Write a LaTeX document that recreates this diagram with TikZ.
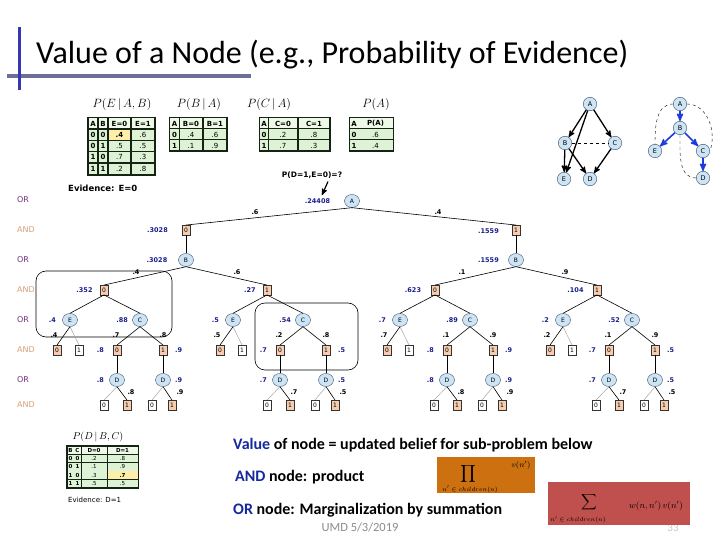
\documentclass[tikz,border=0pt]{standalone}
\usepackage{fontspec}
\setmainfont{Carlito}
\newfontfamily\tahoma{DejaVu Sans}
\usepackage{amsmath}
\usetikzlibrary{positioning,arrows,shapes.geometric,calc}
\definecolor{orfill}{RGB}{205,228,245}
\definecolor{orline}{RGB}{60,80,110}
\definecolor{andfill}{RGB}{248,205,175}
\definecolor{valblue}{RGB}{25,30,140}
\definecolor{orlvl}{RGB}{110,50,120}
\definecolor{andlvl}{RGB}{215,160,120}
\definecolor{tabline}{RGB}{20,35,20}
\definecolor{tabcell}{RGB}{222,243,214}
\definecolor{tabhead}{RGB}{238,249,232}
\definecolor{tabhi}{RGB}{255,238,170}
\definecolor{titlebar}{RGB}{55,55,175}
\definecolor{titleline}{RGB}{110,110,155}
\definecolor{keyblue}{RGB}{20,40,160}
\definecolor{prodbox}{RGB}{204,112,16}
\definecolor{sumbox}{RGB}{192,80,77}
\definecolor{footgray}{RGB}{140,140,140}
\definecolor{pseudoblue}{RGB}{30,60,220}
\tikzset{
  ornode/.style={draw=orline,fill=orfill,ellipse,minimum width=15pt,minimum height=13pt,inner sep=0pt,font=\tahoma\fontsize{6}{6}\selectfont},
  andnode/.style={draw=black!80,fill=andfill,rectangle,minimum width=8pt,minimum height=9.5pt,inner sep=0pt,font=\tahoma\fontsize{6}{6}\selectfont},
  andleaf/.style={andnode,fill=white},
  val/.style={text=valblue,inner sep=0pt,font=\tahoma\bfseries\fontsize{6.5}{6.5}\selectfont},
  wgt/.style={inner sep=0pt,font=\tahoma\bfseries\fontsize{6.5}{6.5}\selectfont},
  lvlor/.style={text=orlvl,anchor=west,inner sep=0pt,font=\tahoma\fontsize{8}{8}\selectfont},
  lvland/.style={lvlor,text=andlvl},
  tedge/.style={line width=0.6pt},
  gedge/.style={line width=0.5pt,gray!70},
  tframe/.style={fill=tabline,draw=tabline,line width=1.5pt},
  thead/.style={fill=tabhead,minimum height=10pt,inner sep=0pt,font=\tahoma\bfseries\fontsize{7}{7}\selectfont},
  tidx/.style={thead,fill=tabcell},
  tval/.style={thead,fill=tabcell,font=\tahoma\fontsize{7}{7}\selectfont},
  gnode/.style={draw=orline,fill=orfill,circle,minimum size=13.5pt,inner sep=0pt,font=\tahoma\fontsize{6.5}{6.5}\selectfont},
  garrow/.style={->,>=stealth',line width=1.3pt},
  parrow/.style={->,>=stealth',line width=1.6pt,pseudoblue},
  note/.style={anchor=west,inner sep=0pt,font=\bfseries\fontsize{16}{16}\selectfont}
}
\begin{document}
\begin{tikzpicture}[x=1pt,y=-1pt]
\fill[white] (0,0) rectangle (720,540);
\useasboundingbox (0,0) rectangle (720,540);

%title
\node[anchor=base west,inner sep=0pt,font=\fontsize{32}{32}\selectfont] (title) at (36,64) {Value of a Node (e.g., Probability of Evidence)};
\fill[titleline] (7,74) rectangle (251,78);
\fill[titlebar] (17.5,27) rectangle (20.5,90);

%table P(E|A,B)
\node (lE) at (122,105) {\fontsize{12}{12}\selectfont$P(E\,|\,A,B)$};
\draw[tframe] (88,118) rectangle (155,175);
\foreach \t/\x/\w [count=\c] in {A/93/8.8, B/103/8.8, E=0/119.5/21.8, E=1/143/22.8}
  \node[thead,minimum width=\w pt] (tE\c) at (\x,123.5) {\t};
\foreach \a/\b/\u/\v [count=\r] in {0/0/.4/.6, 0/1/.5/.5, 1/0/.7/.3, 1/1/.2/.8}{
  \node[tidx,minimum width=8.8pt] (tEa\r) at (93,123.5+11.3*\r) {\a};
  \node[tidx,minimum width=8.8pt] (tEb\r) at (103,123.5+11.3*\r) {\b};
  \node[tval,minimum width=21.8pt] (tEu\r) at (119.5,123.5+11.3*\r) {\u};
  \node[tval,minimum width=22.8pt] (tEv\r) at (143,123.5+11.3*\r) {\v};
}
\node[tval,fill=tabhi,minimum width=21.8pt,font=\tahoma\bfseries\fontsize{7}{7}\selectfont] (tEhi) at (119.5,134.8) {.4};
\node[anchor=west,inner sep=0pt,font=\tahoma\bfseries\fontsize{8.5}{8.5}\selectfont] (evE) at (68,188) {Evidence: E=0};

%table P(B|A)
\node (lB) at (199,105) {\fontsize{12}{12}\selectfont$P(B\,|\,A)$};
\draw[tframe] (170,118) rectangle (227,151);
\foreach \t/\x/\w [count=\c] in {A/174.5/8.8, B=0/191/22.8, B=1/215/22.8}
  \node[thead,minimum width=\w pt] (tB\c) at (\x,123.5) {\t};
\foreach \a/\u/\v [count=\r] in {0/.4/.6, 1/.1/.9}{
  \node[tidx,minimum width=8.8pt] (tBa\r) at (174.5,123.5+11*\r) {\a};
  \node[tval,minimum width=22.8pt] (tBu\r) at (191,123.5+11*\r) {\u};
  \node[tval,minimum width=22.8pt] (tBv\r) at (215,123.5+11*\r) {\v};
}

%table P(C|A)
\node (lC) at (269,105) {\fontsize{12}{12}\selectfont$P(C\,|\,A)$};
\draw[tframe] (260,118) rectangle (330,151);
\foreach \t/\x/\w [count=\c] in {A/264/7.8, C=0/283/28.8, C=1/314/30.8}
  \node[thead,minimum width=\w pt] (tC\c) at (\x,123.5) {\t};
\foreach \a/\u/\v [count=\r] in {0/.2/.8, 1/.7/.3}{
  \node[tidx,minimum width=7.8pt] (tCa\r) at (264,123.5+11*\r) {\a};
  \node[tval,minimum width=28.8pt] (tCu\r) at (283,123.5+11*\r) {\u};
  \node[tval,minimum width=30.8pt] (tCv\r) at (314,123.5+11*\r) {\v};
}

%table P(A)
\node (lA) at (376,105) {\fontsize{12}{12}\selectfont$P(A)$};
\draw[tframe] (350,118) rectangle (393,151);
\foreach \t/\x/\w [count=\c] in {A/354/7.8, P(A)/375.5/34.8}
  \node[thead,minimum width=\w pt] (tA\c) at (\x,123.5) {\t};
\foreach \a/\u [count=\r] in {0/.6, 1/.4}{
  \node[tidx,minimum width=7.8pt] (tAa\r) at (354,123.5+11*\r) {\a};
  \node[tval,minimum width=34.8pt] (tAu\r) at (375.5,123.5+11*\r) {\u};
}

%belief network
\node[gnode] (ga) at (590,104) {A};
\node[gnode] (gb) at (565,143) {B};
\node[gnode] (gc) at (615,143) {C};
\node[gnode] (ge) at (564,179) {E};
\node[gnode] (gd) at (590,179) {D};
\foreach \s/\t in {ga/gb, ga/gc, ga/ge, gb/ge, gb/gd, gc/gd}
  \draw[garrow] (\s) -- (\t);
\draw[dashed,line width=0.6pt] (gb) -- (gc);

%pseudo tree
\node[gnode] (qa) at (680,104) {A};
\node[gnode] (qb) at (680,128) {B};
\node[gnode] (qe) at (655,151) {E};
\node[gnode] (qc) at (703,151) {C};
\node[gnode] (qd) at (703,178) {D};
\foreach \s/\t in {qa/qb, qb/qe, qb/qc, qc/qd}
  \draw[parrow] (\s) -- (\t);
\draw[dashed,thin] (qa.west) to[out=180,in=90] (qe.north);
\draw[dashed,thin] (qa.east) to[out=0,in=70] (qc.east);
\draw[dashed,thin] (qb.south) to[out=-90,in=180] (qd.west);

%query
\node[inner sep=0pt,font=\tahoma\bfseries\fontsize{7.5}{7.5}\selectfont] (q) at (312,175) {P(D=1,E=0)=?};
\coordinate (qtip) at (322,195);
\draw[->,>=stealth',line width=1.2pt] ([xshift=16pt,yshift=-3pt]q.south) -- (qtip);

%level labels
\foreach \y in {200,260,320,380}
  \node[lvlor] (lo\y) at (17,\y) {OR};
\foreach \y in {230,290,350,405}
  \node[lvland] (la\y) at (17,\y) {AND};

%search boxes
\draw[rounded corners=10pt,line width=0.6pt] (36,271) rectangle (172,337);
\draw[rounded corners=10pt,line width=0.6pt] (255,303) rectangle (358,370);

%top of the AND/OR tree
\node[ornode] (r) at (352,201) {A};
\node[andnode] (a0) at (186,230) {0};
\node[andnode] (a1) at (516,230) {1};
\node[ornode] (b0) at (186,260) {B};
\node[ornode] (b1) at (516,260) {B};
\node[andnode] (c0) at (104,290) {0};
\node[andnode] (c1) at (267,290) {1};
\node[andnode] (c2) at (435,290) {0};
\node[andnode] (c3) at (597,290) {1};
\foreach \s/\t in {r/a0, r/a1, a0/b0, a1/b1, b0/c0, b0/c1, b1/c2, b1/c3}
  \draw[tedge] (\s.south) -- (\t.north);
\foreach \x/\y/\t [count=\k] in {317.5/201/.24408, 157.5/230/.3028, 488.5/231/.1559, 157/260/.3028, 488.5/260/.1559, 84.5/290/.352, 250/290/.27, 413/290/.623, 575.5/290/.104}
  \node[val] (vt\k) at (\x,\y) {\t};
\foreach \x/\y/\t [count=\k] in {255/212/.6, 438/212/.4, 136/272/.4, 237/272/.6, 462/272/.1, 565/272/.9}
  \node[wgt] (wt\k) at (\x,\y) {\t};

%sub-problems below the AND nodes
\foreach \i/\ex/\cx/\ve/\vc/\vx/\vy/\wx/\wy in {0/70/140/.4/.88/.8/.9/.7/.8, 1/233/303/.5/.54/.7/.5/.2/.8, 2/400/470/.7/.89/.8/.9/.1/.9, 3/563/632/.2/.52/.7/.5/.1/.9}{
  \node[ornode] (e\i) at (\ex,320) {E};
  \node[ornode] (f\i) at (\cx,320) {C};
  \draw[tedge] (c\i.south) -- (e\i.north);
  \draw[tedge] (c\i.south) -- (f\i.north);
  \node[andnode] (e\i z) at (\ex-13,350) {0};
  \node[andleaf] (e\i o) at (\ex+9,350) {1};
  \draw[tedge] (e\i.south) -- (e\i z.north);
  \draw[gedge] (e\i.south) -- (e\i o.north);
  \node[andnode] (f\i z) at (\cx-23,350) {0};
  \node[andnode] (f\i o) at (\cx+23,350) {1};
  \draw[tedge] (f\i.south) -- (f\i z.north);
  \draw[tedge] (f\i.south) -- (f\i o.north);
  \node[ornode] (d\i z) at (\cx-23,380) {D};
  \node[ornode] (d\i o) at (\cx+23,380) {D};
  \draw[tedge] (f\i z) -- (d\i z);
  \draw[tedge] (f\i o) -- (d\i o);
  \node[andleaf] (l\i a) at (\cx-36,405) {0};
  \node[andnode] (l\i b) at (\cx-13,405) {1};
  \node[andleaf] (l\i c) at (\cx+12,405) {0};
  \node[andnode] (l\i d) at (\cx+32,405) {1};
  \draw[gedge] (d\i z.south) -- (l\i a.north);
  \draw[tedge] (d\i z.south) -- (l\i b.north);
  \draw[gedge] (d\i o.south) -- (l\i c.north);
  \draw[tedge] (d\i o.south) -- (l\i d.north);
  %values
  \node[val,anchor=east] (ve\i) at (\ex-14,320) {\ve};
  \node[val,anchor=east] (vc\i) at (\cx-12,320) {\vc};
  \node[val,anchor=east] (vx\i) at (\cx-36,350) {\vx};
  \node[val,anchor=west] (vy\i) at (\cx+35,350) {\vy};
  \node[val,anchor=east] (vdx\i) at (\cx-36,380) {\vx};
  \node[val,anchor=west] (vdy\i) at (\cx+35,380) {\vy};
  %weights
  \node[wgt] (we\i) at (\ex-16,335) {\ve};
  \node[wgt] (wx\i) at (\cx-24,335) {\wx};
  \node[wgt] (wy\i) at (\cx+23,335) {\wy};
  \node[wgt] (wdx\i) at (\cx-9,392) {\vx};
  \node[wgt] (wdy\i) at (\cx+40,392) {\vy};
}

%table P(D|B,C)
\node (lD) at (98,437) {\fontsize{10}{10}\selectfont$P(D\,|\,B,C)$};
\draw[tframe,line width=1.2pt] (67,446) rectangle (138,488);
\foreach \t/\x/\w [count=\c] in {B/70.5/6, C/77.5/6.8, D=0/94/25, D=1/122.5/30}
  \node[thead,minimum width=\w pt,minimum height=7.4pt,font=\tahoma\bfseries\fontsize{5.5}{5.5}\selectfont] (tD\c) at (\x,450.5) {\t};
\foreach \b/\c/\u/\v [count=\r] in {0/0/.2/.8, 0/1/.1/.9, 1/0/.3/.7, 1/1/.5/.5}{
  \node[tidx,minimum width=6pt,minimum height=7.4pt,font=\tahoma\bfseries\fontsize{5.5}{5.5}\selectfont] (tDb\r) at (70.5,450.5+8.2*\r) {\b};
  \node[tidx,minimum width=6.8pt,minimum height=7.4pt,font=\tahoma\bfseries\fontsize{5.5}{5.5}\selectfont] (tDc\r) at (77.5,450.5+8.2*\r) {\c};
  \node[tval,minimum width=25pt,minimum height=7.4pt,font=\tahoma\fontsize{5.5}{5.5}\selectfont] (tDu\r) at (94,450.5+8.2*\r) {\u};
  \node[tval,minimum width=30pt,minimum height=7.4pt,font=\tahoma\fontsize{5.5}{5.5}\selectfont] (tDv\r) at (122.5,450.5+8.2*\r) {\v};
}
\node[tval,fill=tabhi,minimum width=30pt,minimum height=7.4pt,font=\tahoma\bfseries\fontsize{5.5}{5.5}\selectfont] (tDhi) at (122.5,475.1) {.7};
\node[anchor=west,inner sep=0pt,font=\tahoma\fontsize{7}{7}\selectfont] (evD) at (68,500) {Evidence: D=1};

%notes
\node[note] (nval) at (233,445) {\textcolor{keyblue}{Value} of node = updated belief for sub-problem below};
\node[note] (nand) at (235,477) {\textcolor{keyblue}{AND} node: product};
\node[note] (nor) at (233,510) {\textcolor{keyblue}{OR} node: Marginalization by summation};
\node[inner sep=0pt,text=footgray,font=\fontsize{12.5}{12.5}\selectfont] (foot) at (360,527) {UMD 5/3/2019};
\node[inner sep=0pt,text=gray!45,font=\fontsize{11}{11}\selectfont] (pnum) at (673,528) {33};

%formula boxes
\fill[prodbox] (437,457) rectangle (535,493);
\node[inner sep=0pt] (prodsym) at (468,474) {\fontsize{13}{13}\selectfont$\displaystyle\prod$};
\node[inner sep=0pt] (prodsub) at (470,489.5) {\fontsize{6}{6}\selectfont$n'\in children(n)$};
\node[inner sep=0pt] (prodv) at (521,465) {\fontsize{8}{8}\selectfont$v(n')$};
\fill[sumbox] (548,482) rectangle (690,525);
\node[inner sep=0pt] (sumsym) at (589,502) {\fontsize{11}{11}\selectfont$\displaystyle\sum$};
\node[inner sep=0pt] (sumsub) at (578,520) {\fontsize{6}{6}\selectfont$n'\in children(n)$};
\node[inner sep=0pt] (sumw) at (656,506) {\fontsize{9}{9}\selectfont$w(n,n')\,v(n')$};
\end{tikzpicture}
\end{document}
